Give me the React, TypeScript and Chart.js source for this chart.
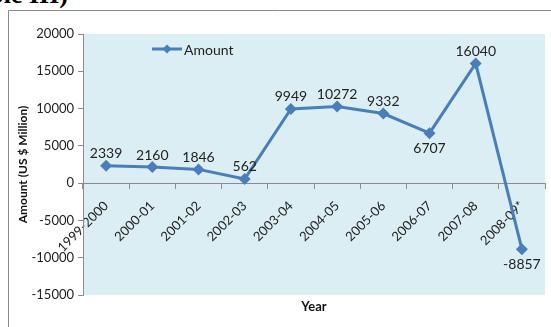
import React, { useEffect, useRef } from "react";
import { Chart, registerables } from "chart.js";

Chart.register(...registerables);

const categories = [
  "1999-2000", "2000-01", "2001-02", "2002-03", "2003-04",
  "2004-05", "2005-06", "2006-07", "2007-08", "2008-09*",
];
const amounts = [2339, 2160, 1846, 562, 9949, 10272, 9332, 6707, 16040, -8857];
const labelBelow = [false, false, false, false, false, false, false, true, false, true];
const seriesName = "Amount";
const yTitle = "Amount (US $ Million)";
const xTitle = "Year";
const yMin = -15000;
const yMax = 20000;
const yStep = 5000;

const LINE = "#4A7EBB";
const FONT = "Lato, 'Open Sans', sans-serif";

export default function App() {
  const ref = useRef<HTMLCanvasElement | null>(null);

  useEffect(() => {
    const canvas = ref.current;
    if (!canvas) return;

    const decor = {
      id: "decor",
      beforeDraw(chart: any) {
        const { ctx, chartArea } = chart;
        ctx.save();
        ctx.strokeStyle = "#8C8C8C";
        ctx.lineWidth = 1;
        ctx.beginPath();
        ctx.moveTo(0.5, chart.height);
        ctx.lineTo(0.5, 0.5);
        ctx.lineTo(chart.width, 0.5);
        ctx.stroke();
        ctx.fillStyle = "#DBEEF3";
        ctx.fillRect(chartArea.left, chartArea.top, chartArea.right - chartArea.left, chartArea.bottom - chartArea.top);
        ctx.restore();
      },
      afterDatasetsDraw(chart: any) {
        const { ctx, chartArea } = chart;
        const meta = chart.getDatasetMeta(0);
        ctx.save();
        ctx.font = `14px ${FONT}`;
        ctx.fillStyle = "#222";
        ctx.textAlign = "center";
        ctx.textBaseline = "middle";
        meta.data.forEach((pt: any, i: number) => {
          const v = amounts[i];
          const y = labelBelow[i] ? pt.y + 15 : pt.y - 12;
          ctx.fillText(String(v), pt.x, y);
        });
        // legend
        const lx = chartArea.left + 69;
        const ly = chartArea.top + 15;
        ctx.strokeStyle = LINE;
        ctx.lineWidth = 3;
        ctx.beginPath();
        ctx.moveTo(lx, ly);
        ctx.lineTo(lx + 30, ly);
        ctx.stroke();
        ctx.fillStyle = LINE;
        ctx.beginPath();
        const cx = lx + 15;
        ctx.moveTo(cx, ly - 4.5);
        ctx.lineTo(cx + 4.5, ly);
        ctx.lineTo(cx, ly + 4.5);
        ctx.lineTo(cx - 4.5, ly);
        ctx.closePath();
        ctx.fill();
        ctx.fillStyle = "#222";
        ctx.textAlign = "left";
        ctx.font = `14px ${FONT}`;
        ctx.fillText(seriesName, lx + 32, ly + 1);
        // x title
        ctx.font = `bold 13px ${FONT}`;
        ctx.textAlign = "center";
        ctx.fillStyle = "#111";
        ctx.fillText(xTitle, (chartArea.left + chartArea.right) / 2, chartArea.bottom + 12);
        ctx.restore();
      },
    };

    const chart = new Chart(canvas, {
      type: "line",
      data: {
        labels: categories,
        datasets: [
          {
            label: seriesName,
            data: amounts,
            borderColor: LINE,
            backgroundColor: LINE,
            borderWidth: 3,
            pointStyle: "rectRot",
            pointRadius: 6,
            pointBackgroundColor: LINE,
            pointBorderColor: LINE,
            pointBorderWidth: 0,
            tension: 0,
          },
        ],
      },
      options: {
        responsive: false,
        animation: false,
        devicePixelRatio: 1,
        layout: { padding: { left: 0, top: 24, right: 4, bottom: 32 } },
        plugins: {
          legend: { display: false },
          tooltip: { enabled: false },
        },
        scales: {
          x: {
            type: "category",
            position: { y: 0 } as any,
            offset: true,
            grid: {
              drawOnChartArea: false,
              drawTicks: true,
              tickLength: 5,
              offset: true,
              color: "#8C8C8C",
            },
            border: { display: true, color: "#8C8C8C" },
            ticks: {
              minRotation: 45,
              maxRotation: 45,
              autoSkip: false,
              padding: 10,
              color: "#222",
              font: { family: FONT, size: 13 },
            },
          },
          y: {
            min: yMin,
            max: yMax,
            afterFit(scale: any) {
              scale.width = 75;
            },
            grid: {
              drawOnChartArea: false,
              drawTicks: true,
              tickLength: 5,
              color: "#8C8C8C",
            },
            border: { display: true, color: "#8C8C8C" },
            ticks: {
              stepSize: yStep,
              padding: 4,
              color: "#222",
              font: { family: FONT, size: 13 },
              callback: (v: any) => String(v),
            },
            title: {
              display: true,
              text: yTitle,
              color: "#111",
              font: { family: FONT, size: 12, weight: "bold" },
              padding: { top: 8, bottom: 0 },
            },
          },
        },
      },
      plugins: [decor],
    } as any);

    return () => chart.destroy();
  }, []);

  return (
    <div style={{ position: "fixed", left: 0, top: 0, width: 551, height: 327, overflow: "hidden", background: "#fff" }}>
      <div
        style={{
          position: "absolute",
          right: 483,
          top: -18,
          fontFamily: "'Liberation Serif', 'Times New Roman', serif",
          fontSize: 26,
          fontWeight: "bold",
          lineHeight: "26px",
          whiteSpace: "nowrap",
          color: "#000",
        }}
      >
        (Table III)
      </div>
      <canvas
        ref={ref}
        width={543}
        height={317}
        style={{ position: "absolute", left: 8, top: 10, width: 543, height: 317 }}
      />
    </div>
  );
}
